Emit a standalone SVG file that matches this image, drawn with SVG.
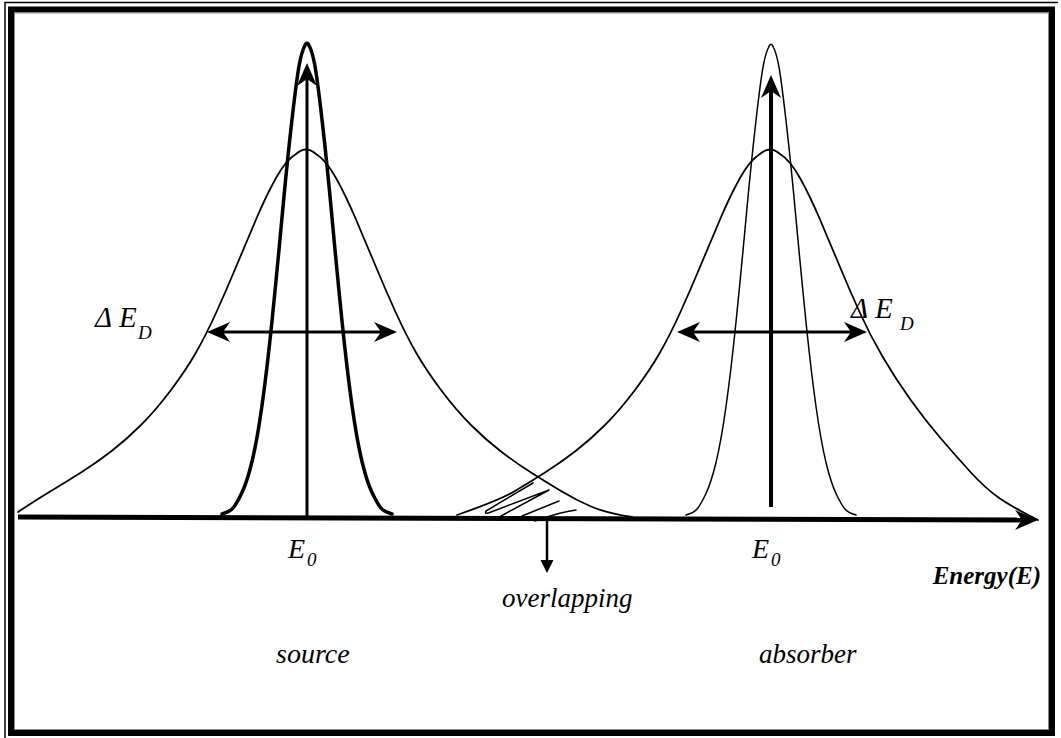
<svg xmlns="http://www.w3.org/2000/svg" width="1061" height="738" viewBox="0 0 1061 738">
<style>
.lbl{font-family:"Liberation Serif","Times New Roman",serif;font-style:italic;fill:#000}
.curve{fill:none;stroke:#000;stroke-linejoin:round;stroke-linecap:round}
.ln{stroke:#000;fill:none}
</style>
<defs>
<path id="stealth" d="M0,0 L-10,23 L0,16 L10,23 Z"/>
</defs>
<rect width="1061" height="738" fill="#fff"/>
<g id="frame">
<path d="M5,738 V2.5 H1058" fill="none" stroke="#000" stroke-width="1.5"/>
<rect x="11" y="9.5" width="1041" height="723.5" fill="none" stroke="#000" stroke-width="6"/>
<rect x="14.5" y="13" width="1034" height="716.5" fill="none" stroke="#888" stroke-width="1"/>
</g>
<g id="source-lorentz">
<path class="curve" stroke-width="1.8" d="M18,512 Q36,500 51,491 Q66,482 81,472.5 Q96,463 111,451.5 Q126,440 141,425 Q156,410 171,390 Q186,370 196,352.5 Q206,335 216,313 Q226,291 236,267 Q246,243 256,219.5 Q266,196 276,178 Q286,160 296,154 Q306,145 316,154 Q326,160 336,178 Q346,196 356,219.5 Q366,243 376,267 Q386,291 396,313 Q406,335 416,352.5 Q426,370 441,390 Q456,410 471,425 Q486,440 501,451.5 Q516,463 531,472.5 Q546,482 561,491 Q576,500 591,506.5 Q606,513 632,517"/>
</g>
<g id="absorber-lorentz">
<path class="curve" stroke-width="1.8" d="M457,515 Q500,500 515,491 Q530,482 545,472.5 Q560,463 575,451.5 Q590,440 605,425 Q620,410 635,390 Q650,370 660,352.5 Q670,335 680,313 Q690,291 700,267 Q710,243 720,219.5 Q730,196 740,178 Q750,160 760,154 Q770,145 780,154 Q790,160 800,178 Q810,196 820,219.5 Q830,243 840,267 Q850,291 860,313 Q870,335 882.5,356.5 Q895,378 910,399 Q925,420 940,437.5 Q955,455 970,471.5 Q985,488 998.5,497.5 Q1012,507 1038,520"/>
</g>
<g id="source-gauss">
<path class="curve" stroke-width="3.5" d="M222,514 Q230,512 233.5,507.5 Q237,503 242,492.5 Q247,482 252,461.5 Q257,441 262,405.5 Q267,370 272,321 Q277,272 282,217.5 Q287,163 292,119.5 Q297,76 299.5,63.5 Q302,51 304.5,46.5 Q307,40 309.5,46.5 Q312,51 314.5,63.5 Q317,76 322,119.5 Q327,163 332,217.5 Q337,272 342,321 Q347,370 352,405.5 Q357,441 362,461.5 Q367,482 372,492.5 Q377,503 380.5,507.5 Q384,512 392,514"/>
</g>
<g id="absorber-gauss">
<path class="curve" stroke-width="1.5" transform="translate(464,1)" d="M222,514 Q230,512 233.5,507.5 Q237,503 242,492.5 Q247,482 252,461.5 Q257,441 262,405.5 Q267,370 272,321 Q277,272 282,217.5 Q287,163 292,119.5 Q297,76 299.5,63.5 Q302,51 304.5,46.5 Q307,40 309.5,46.5 Q312,51 314.5,63.5 Q317,76 322,119.5 Q327,163 332,217.5 Q337,272 342,321 Q347,370 352,405.5 Q357,441 362,461.5 Q367,482 372,492.5 Q377,503 380.5,507.5 Q384,512 392,514"/>
</g>
<g id="overlap-hatch">
<path class="curve" stroke-width="1.5" d="M533,483 L486,511 Q484,515 491,512 L549,490 L501,516 M559,501 L522,516 M576,510 Q560,512 535,521"/>
</g>
<g id="connectors">
<line class="ln" x1="18" y1="517" x2="1030" y2="520" stroke-width="5"/>
<use href="#stealth" transform="translate(1038,520) rotate(90)"/>
<line class="ln" x1="307" y1="517" x2="307" y2="75" stroke-width="3"/>
<use href="#stealth" transform="translate(307,63)"/>
<line class="ln" x1="771" y1="507" x2="771" y2="87" stroke-width="4"/>
<use href="#stealth" transform="translate(771,75)"/>
<line class="ln" x1="215" y1="332" x2="389" y2="332" stroke-width="3"/>
<use href="#stealth" transform="translate(207,332) rotate(-90)"/>
<use href="#stealth" transform="translate(397,332) rotate(90)"/>
<line class="ln" x1="685" y1="332" x2="859" y2="332" stroke-width="3"/>
<use href="#stealth" transform="translate(677,332) rotate(-90)"/>
<use href="#stealth" transform="translate(867,332) rotate(90)"/>
<line class="ln" x1="547" y1="519" x2="547" y2="562" stroke-width="2.5"/>
<path d="M540.5,560 L553.5,560 L547,573 Z"/>
</g>
<g id="labels">
<text class="lbl" x="95" y="327" font-size="29">Δ</text>
<text class="lbl" x="119" y="327" font-size="29">E</text>
<text class="lbl" x="138" y="339" font-size="19">D</text>
<text class="lbl" x="851" y="318" font-size="29">Δ</text>
<text class="lbl" x="875" y="318" font-size="29">E</text>
<text class="lbl" x="900" y="330" font-size="19">D</text>
<text class="lbl" x="288" y="558" font-size="28">E</text>
<text class="lbl" x="307" y="566" font-size="19">0</text>
<text class="lbl" x="752" y="558" font-size="28">E</text>
<text class="lbl" x="771" y="566" font-size="19">0</text>
<text class="lbl" x="1041" y="584" font-size="25" font-weight="bold" text-anchor="end">Energy(E)</text>
<text class="lbl" x="502" y="607" font-size="27">overlapping</text>
<text class="lbl" x="276" y="663" font-size="28">source</text>
<text class="lbl" x="759" y="663" font-size="27">absorber</text>
</g>
</svg>
